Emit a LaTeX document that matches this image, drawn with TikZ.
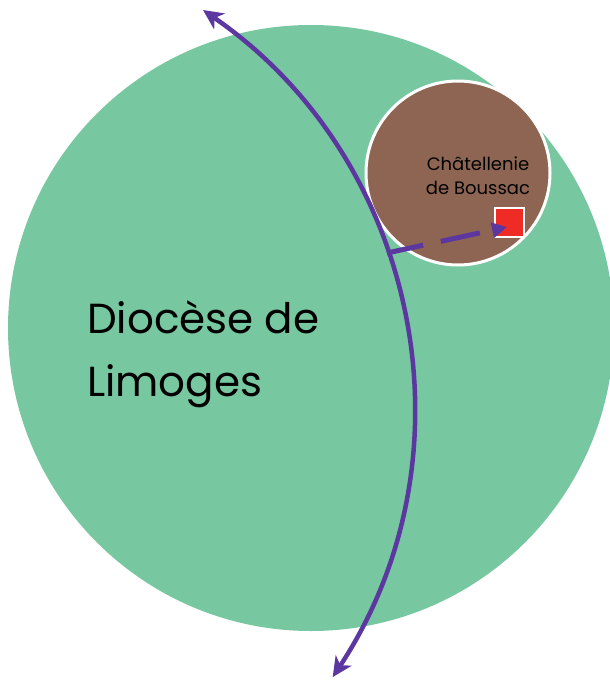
\documentclass[tikz,border=0pt]{standalone}
\usepackage{fontspec}
\setmainfont{Poppins}
\usetikzlibrary{arrows.meta}
\definecolor{diogreen}{RGB}{119,199,161}
\definecolor{chatbrown}{RGB}{142,101,82}
\definecolor{borderpurple}{RGB}{92,55,160}
\definecolor{boussacred}{RGB}{238,43,36}
\tikzset{region/.style = {circle, inner sep = 0pt},
    borderline/.style = {borderpurple, line width = 4.5pt}
}

\begin{document}
\begin{tikzpicture}[x = 1pt, y = -1pt]

    \useasboundingbox (0,0) rectangle (610,680);
    \clip (0,0) rectangle (610,680);

    \tikzset{bigarrow/.style = {{Stealth[length = 20pt, width = 19pt, inset = 6pt]}-{Stealth[length = 20pt, width = 19pt, inset = 6pt]}}}

    \node (diocese) [region, fill = diogreen, minimum size = 606pt] at (311,328) {};
    \node (chatellenie) [region, fill = chatbrown, draw = white, line width = 3pt, minimum size = 184pt] at (458,173) {};
    \node (boussac) [fill = boussacred, draw = white, line width = 2pt, minimum size = 29pt, inner sep = 0pt] at (509,222) {};

    \node (dioname) [anchor = west, align = left, inner sep = 0pt, font = \fontsize{42}{63}\selectfont] at (87,354) {Diocèse de\\Limoges};
    \node (chatname) [align = center, inner sep = 0pt, font = \fontsize{18}{24}\selectfont] at (478,176) {Châtellenie\\de Boussac};

    % frontier of the diocese
    \coordinate (frontiertop) at (203,10);
    \coordinate (junction) at (387,253);
    \coordinate (boussactip) at (507,227);
    \draw[borderline, bigarrow] (frontiertop) arc [start angle = -55.4, end angle = 33.4, radius = 485.7];

    \draw[borderline, line width = 5pt, dash pattern = on 37pt off 18pt on 40pt off 30pt,
        -{Triangle[length = 15pt, width = 15pt]}] (junction) -- (boussactip);

\end{tikzpicture}
\end{document}
